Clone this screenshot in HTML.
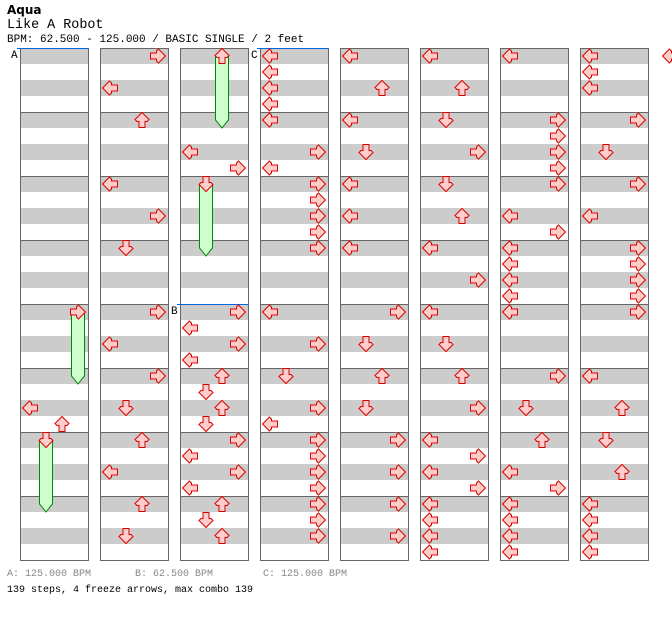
<!DOCTYPE html>
<html><head><meta charset="utf-8">
<style>
body{margin:0;background:#fff;width:672px;height:620px;overflow:hidden;font-family:"Liberation Mono","DejaVu Sans Mono",monospace;}
.t{position:absolute;white-space:pre;color:#000;}
</style></head>
<body>
<div class="t" style="left:7px;top:3px;font-size:12px;font-weight:bold;font-family:'DejaVu Sans','Liberation Sans',sans-serif">Aqua</div>
<div class="t" style="left:7px;top:18px;font-size:13.4px">Like A Robot</div>
<div class="t" style="left:7px;top:34px;font-size:11px">BPM: 62.500 - 125.000 / BASIC SINGLE / 2 feet</div>
<svg id="chart" width="672" height="620" style="position:absolute;left:0;top:0"></svg>
<div class="t" style="left:7px;top:569px;font-size:10px;color:#888">A: 125.000 BPM</div>
<div class="t" style="left:135px;top:569px;font-size:10px;color:#888">B: 62.500 BPM</div>
<div class="t" style="left:263px;top:569px;font-size:10px;color:#888">C: 125.000 BPM</div>
<div class="t" style="left:7px;top:585px;font-size:10px">139 steps, 4 freeze arrows, max combo 139</div>
<script>
// lanes: 0=left 1=down 2=up 3=right ; beats: global quarter-note index (32 per column)
const noteBeats = [
 16,22,23,24,
 32,34,36,40,42,44,48,50,52,54,56,58,60,62,
 64,70,71,72,80,81,82,83,84,85,86,87,88,89,90,91,92,93,94,
 96,97,98,99,100,102,103,104,105,106,107,108,112,114,116,118,119,120,121,122,123,124,125,126,
 128,130,132,134,136,138,140,144,146,148,150,152,154,156,158,
 160,162,164,166,168,170,172,174,176,178,180,182,184,185,186,187,188,189,190,191,
 192,196,197,198,199,200,202,203,204,205,206,207,208,212,214,216,218,219,220,221,222,223,
 224,225,226,228,230,232,234,236,237,238,239,240,244,246,248,250,252,253,254,255,
 256];
const noteLanes = [
 3,0,2,1,
 3,0,2,0,3,1,3,0,3,1,2,0,2,1,
 2,0,3,1,3,0,3,0,2,1,2,1,3,0,3,0,2,1,2,
 0,0,0,0,0,3,0,3,3,3,3,3,0,3,1,3,0,3,3,3,3,3,3,3,
 0,2,0,1,0,0,0,3,1,2,1,3,3,3,3,
 0,2,1,3,1,2,0,3,0,1,2,3,0,3,0,3,0,0,0,0,
 0,3,3,3,3,3,0,3,0,0,0,0,0,3,1,2,0,3,0,0,0,0,
 0,0,0,3,1,3,0,3,3,3,3,3,0,2,1,2,0,0,0,0,
 0];
const freezeStart = [16,24,64,72];
const freezeLane = [3,1,2,1];
const freezeLen = [4,4,4,4];
const markerLabels = ['A','B','C'];
const markerBeats = [0,80,96];

const NS='http://www.w3.org/2000/svg';
const svg=document.getElementById('chart');
function mk(tag,attrs){const e=document.createElementNS(NS,tag);for(const k in attrs)e.setAttribute(k,attrs[k]);svg.appendChild(e);return e;}
function colX(b){return 20+Math.floor(b/32)*80;}
function beatY(b){return 48+(b%32)*16;}
function laneX(b,l){return colX(b)+2+16*l;}

for(let c=0;c<8;c++){
  const x=20+c*80;
  for(let r=0;r<32;r+=2){
    const s=mk('rect',{x:x,y:48+r*16,width:68,height:16,fill:'#cccccc'});
    
    
  }
  for(let m=1;m<8;m++){
    const l=mk('line',{x1:x,x2:x+68,y1:48+m*64+0.5,y2:48+m*64+0.5,stroke:'#666'});
    
    
  }
  const b=mk('rect',{x:x+0.5,y:48.5,width:68,height:512,fill:'none',stroke:'#666'});
  
  
}
for(let i=0;i<markerLabels.length;i++){
  const b=markerBeats[i],x=colX(b),y=beatY(b);
  const l=mk('line',{x1:x-3,x2:x+69,y1:y+0.5,y2:y+0.5,stroke:'#0066dd'});
  
  
  const t=mk('text',{x:x-9,y:y+10,'font-size':11,'font-family':'Liberation Mono, monospace',fill:'#000'});
  t.textContent=markerLabels[i];
  
  
}
const rot=[0,-90,90,180];
const ARROW='M0.5,8 L7.5,1 L9.5,3 L9.5,5 L15.5,5 L15.5,11 L9.5,11 L9.5,13 L7.5,15 Z';
function arrow(b,l){
  const x=laneX(b,l),y=beatY(b);
  const p=mk('path',{d:ARROW,fill:'#ffcccc',stroke:'#dd0000','stroke-width':1,transform:`translate(${x},${y}) rotate(${rot[l]},8,8)`});
  
  
}
for(let i=0;i<freezeStart.length;i++){
  const b=freezeStart[i],l=freezeLane[i],x=laneX(b,l)+0.5,y=beatY(b)+8;
  const end=beatY(b)+freezeLen[i]*16+16;
  const p=mk('path',{d:`M${x+1},${y} L${x+14},${y} L${x+14},${end-8} L${x+7.5},${end} L${x+1},${end-8} Z`,fill:'#ccffcc',stroke:'#008800'});
  
  
}
for(let i=0;i<noteBeats.length;i++)arrow(noteBeats[i],noteLanes[i]);
</script>
</body></html>
